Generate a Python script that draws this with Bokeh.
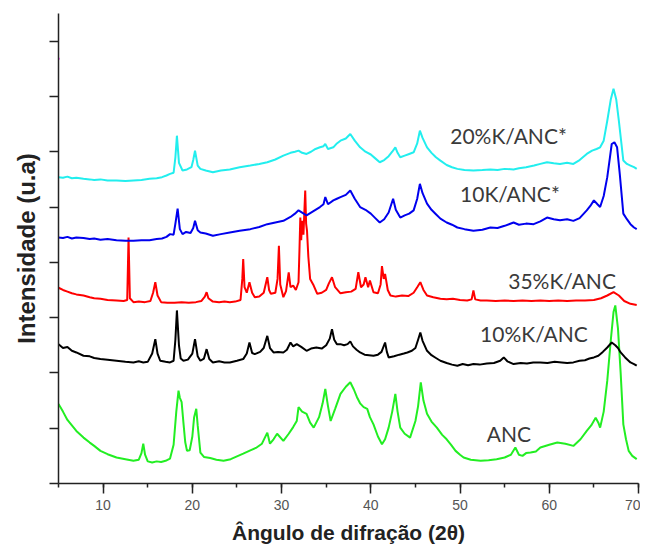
from bokeh.plotting import figure
from bokeh.models import Range1d, FixedTicker, SingleIntervalTicker, Label
from bokeh.embed import file_html
from bokeh.resources import INLINE

# ---- data (2theta, intensity a.u.) ----
anc = [(5.0,1.44),(5.5,1.30),(6.0,1.15),(6.5,1.05),(7.0,0.95),(7.8,0.83),(8.5,0.74),(9.0,0.68),(9.7,0.59),
       (10.5,0.53),(11.5,0.47),(12.5,0.44),(13.4,0.41),(14.0,0.43),(14.3,0.55),(14.5,0.72),(14.7,0.52),(15.0,0.40),
       (15.5,0.38),(16.0,0.40),(16.5,0.39),(17.0,0.41),(17.5,0.45),(17.9,0.70),(18.2,1.30),(18.45,1.68),(18.6,1.55),
       (18.8,1.47),(19.0,1.10),(19.2,0.75),(19.4,0.59),(19.7,0.60),(20.0,0.85),(20.2,1.20),(20.44,1.35),(20.6,1.05),
       (20.9,0.56),(21.3,0.48),(22.0,0.46),(22.7,0.43),(23.5,0.41),(24.3,0.44),(25.0,0.49),(25.7,0.54),(26.5,0.60),
       (27.2,0.65),(27.8,0.72),(28.4,0.92),(28.7,0.72),(29.1,0.80),(29.5,0.90),(30.2,0.77),(30.8,0.90),(31.3,1.02),
       (31.7,1.13),(31.9,1.38),(32.3,1.30),(32.8,1.26),(33.2,1.10),(33.6,1.01),(34.2,1.20),(34.6,1.45),(34.9,1.71),
       (35.2,1.40),(35.5,1.13),(36.0,1.35),(36.6,1.62),(37.2,1.75),(37.7,1.83),(38.1,1.70),(38.45,1.56),(38.8,1.45),
       (39.2,1.38),(39.6,1.35),(39.9,1.20),(40.3,1.07),(40.8,0.85),(41.25,0.71),(41.6,0.80),(42.0,1.01),(42.4,1.30),
       (42.75,1.62),(43.0,1.30),(43.3,1.01),(43.8,0.90),(44.4,0.83),(45.0,1.13),(45.3,1.40),(45.6,1.83),(45.9,1.50),
       (46.3,1.26),(46.8,1.12),(47.4,1.01),(48.0,0.88),(48.5,0.80),(49.0,0.70),(49.5,0.59),(50.0,0.52),(50.4,0.47),
       (51.2,0.43),(52.3,0.41),(53.2,0.42),(54.1,0.44),(55.0,0.47),(55.7,0.52),(56.2,0.65),(56.6,0.52),(57.0,0.50),
       (57.4,0.55),(57.9,0.56),(58.5,0.58),(59.0,0.65),(60.0,0.70),(60.9,0.74),(61.8,0.72),(62.7,0.68),(63.5,0.80),
       (64.2,0.95),(64.7,1.05),(65.2,1.19),(65.5,1.10),(65.7,1.01),(66.1,1.30),(66.5,1.86),(66.9,2.60),(67.2,3.10),
       (67.4,3.22),(67.7,2.80),(68.0,2.00),(68.3,1.07),(68.6,0.80),(68.9,0.59),(69.3,0.50),(69.8,0.44)]

k10 = [(5.0,2.52),(5.5,2.45),(6.0,2.47),(6.5,2.40),(7.0,2.37),(7.8,2.31),(8.5,2.30),(9.0,2.27),(9.7,2.25),
       (10.5,2.24),(11.5,2.22),(12.5,2.20),(13.4,2.19),(14.0,2.21),(14.5,2.19),(15.0,2.20),(15.5,2.35),(15.85,2.61),
       (16.1,2.35),(16.4,2.22),(17.0,2.20),(17.5,2.19),(17.9,2.22),(18.1,2.60),(18.27,3.13),(18.5,2.50),(18.7,2.26),
       (19.0,2.22),(19.5,2.24),(20.0,2.35),(20.3,2.61),(20.6,2.30),(20.9,2.22),(21.3,2.26),(21.6,2.43),(21.9,2.25),
       (22.3,2.19),(23.0,2.21),(23.6,2.19),(24.2,2.19),(25.0,2.22),(25.7,2.25),(26.1,2.35),(26.4,2.55),(26.7,2.36),
       (27.0,2.34),(27.6,2.38),(28.0,2.45),(28.4,2.67),(28.7,2.45),(29.1,2.37),(29.6,2.38),(30.2,2.37),(30.6,2.42),
       (31.0,2.55),(31.3,2.48),(31.7,2.52),(32.2,2.47),(32.8,2.40),(33.3,2.44),(33.9,2.46),(34.5,2.44),(35.0,2.50),
       (35.4,2.62),(35.65,2.79),(35.9,2.60),(36.2,2.52),(36.6,2.52),(37.0,2.50),(37.4,2.52),(37.7,2.57),(38.0,2.48),
       (38.4,2.42),(38.8,2.37),(39.3,2.33),(39.8,2.32),(40.3,2.31),(40.8,2.33),(41.2,2.38),(41.6,2.55),(41.8,2.38),
       (42.0,2.28),(42.6,2.30),(43.2,2.33),(43.7,2.35),(44.1,2.37),(44.6,2.40),(45.0,2.45),(45.3,2.60),(45.55,2.73),
       (45.8,2.58),(46.3,2.40),(46.8,2.32),(47.3,2.27),(47.8,2.22),(48.5,2.18),(49.1,2.15),(49.7,2.13),(50.3,2.16),
       (50.9,2.14),(51.5,2.16),(52.2,2.15),(53.0,2.17),(53.8,2.18),(54.5,2.22),(54.9,2.28),(55.3,2.21),(56.0,2.16),
       (56.8,2.18),(57.5,2.17),(58.2,2.19),(59.0,2.19),(59.8,2.18),(60.6,2.20),(61.4,2.19),(62.0,2.18),(62.7,2.19),
       (63.4,2.22),(64.0,2.23),(64.5,2.26),(65.0,2.28),(65.5,2.31),(66.0,2.38),(66.5,2.46),(67.0,2.55),(67.4,2.50),
       (67.7,2.45),(68.0,2.37),(68.5,2.28),(69.1,2.19),(69.5,2.16),(69.8,2.13)]

k35 = [(5.0,3.54),(5.5,3.50),(6.0,3.47),(6.5,3.44),(7.0,3.42),(7.8,3.40),(8.5,3.37),(9.0,3.35),(9.7,3.34),
       (10.5,3.32),(11.5,3.31),(12.3,3.30),(12.7,3.32),(12.85,4.45),(13.0,3.35),(13.4,3.28),(14.0,3.29),(14.7,3.28),
       (15.3,3.30),(15.6,3.45),(15.85,3.64),(16.1,3.40),(16.5,3.28),(17.2,3.27),(18.0,3.27),(18.8,3.28),(19.6,3.27),
       (20.4,3.28),(21.0,3.30),(21.4,3.38),(21.6,3.46),(21.8,3.35),(22.3,3.29),(23.0,3.28),(23.6,3.29),(24.2,3.28),
       (24.8,3.29),(25.4,3.32),(25.6,3.70),(25.7,4.06),(25.85,3.55),(26.1,3.45),(26.4,3.64),(26.7,3.45),(27.0,3.37),
       (27.5,3.38),(28.0,3.45),(28.4,3.73),(28.6,3.50),(28.8,3.43),(29.3,3.45),(29.55,3.70),(29.7,4.30),(29.85,3.60),
       (30.2,3.37),(30.5,3.48),(30.8,3.82),(31.0,3.55),(31.3,3.58),(31.6,3.50),(31.9,3.64),(32.0,4.20),(32.1,4.81),
       (32.2,4.40),(32.3,4.75),(32.45,4.50),(32.55,4.90),(32.65,5.30),(32.75,4.70),(32.85,4.57),(33.0,4.10),
       (33.2,3.70),(33.6,3.58),(34.0,3.43),(34.5,3.45),(35.0,3.50),(35.3,3.62),(35.65,3.73),(36.0,3.55),(36.6,3.44),
       (37.2,3.46),(37.8,3.47),(38.3,3.52),(38.6,3.82),(38.9,3.55),(39.2,3.60),(39.4,3.73),(39.7,3.55),(39.9,3.67),
       (40.3,3.46),(40.8,3.44),(41.1,3.60),(41.25,3.93),(41.45,3.70),(41.6,3.79),(41.9,3.50),(42.2,3.40),(42.8,3.38),
       (43.5,3.40),(44.2,3.39),(44.8,3.45),(45.2,3.55),(45.55,3.64),(45.9,3.50),(46.3,3.40),(47.0,3.37),(47.8,3.34),
       (48.5,3.33),(49.2,3.34),(50.0,3.32),(50.8,3.31),(51.3,3.33),(51.5,3.49),(51.7,3.33),(52.3,3.31),(53.0,3.31),
       (54.0,3.30),(55.0,3.31),(56.0,3.30),(57.0,3.31),(58.0,3.30),(59.0,3.31),(60.0,3.30),(61.0,3.31),(62.0,3.30),
       (63.0,3.31),(64.0,3.31),(65.0,3.32),(65.8,3.35),(66.5,3.40),(67.2,3.46),(67.8,3.40),(68.4,3.30),(69.1,3.25),
       (69.8,3.23)]

k10s = [(5.0,4.45),(5.5,4.44),(6.0,4.46),(6.5,4.43),(7.0,4.45),(7.8,4.44),(8.5,4.42),(9.0,4.43),(9.7,4.41),
        (10.5,4.42),(11.5,4.40),(12.5,4.39),(13.4,4.39),(14.3,4.40),(15.2,4.40),(16.0,4.42),(16.6,4.43),(17.1,4.46),
        (17.5,4.51),(17.9,4.50),(18.1,4.70),(18.35,4.97),(18.6,4.60),(18.9,4.51),(19.3,4.55),(19.8,4.53),(20.1,4.62),
        (20.3,4.75),(20.6,4.58),(20.9,4.54),(21.5,4.52),(22.3,4.48),(23.2,4.51),(24.2,4.54),(25.3,4.57),(26.5,4.60),
        (27.5,4.64),(28.4,4.69),(29.3,4.72),(30.2,4.75),(31.0,4.82),(31.5,4.88),(31.9,4.94),(32.3,4.90),(32.8,4.85),
        (33.3,4.90),(33.8,4.95),(34.3,5.00),(34.7,5.05),(34.9,5.18),(35.2,5.05),(35.8,5.12),(36.2,5.15),(36.6,5.18),
        (37.2,5.22),(37.7,5.30),(38.2,5.15),(38.8,5.00),(39.4,4.95),(40.0,4.88),(40.5,4.80),(41.0,4.72),(41.5,4.78),
        (42.0,4.90),(42.5,5.15),(42.8,4.95),(43.3,4.81),(43.8,4.85),(44.3,4.88),(44.8,4.94),(45.2,5.15),(45.5,5.42),
        (45.8,5.25),(46.3,5.06),(46.8,4.95),(47.3,4.87),(47.8,4.79),(48.5,4.72),(49.1,4.68),(49.7,4.63),(50.5,4.60),
        (51.5,4.57),(52.5,4.59),(53.4,4.63),(54.2,4.62),(55.0,4.66),(56.0,4.72),(56.6,4.68),(57.4,4.70),(58.25,4.69),
        (59.0,4.74),(59.75,4.81),(60.5,4.78),(61.2,4.76),(62.0,4.78),(62.7,4.75),(63.4,4.80),(64.2,4.94),(64.6,5.02),
        (65.0,5.12),(65.4,5.05),(65.7,5.00),(66.1,5.20),(66.5,5.54),(66.8,5.90),(67.0,6.14),(67.3,6.17),(67.6,6.08),
        (67.9,5.60),(68.3,4.88),(68.7,4.78),(69.1,4.69),(69.5,4.63),(69.8,4.60)]

k20s = [(5.0,5.54),(5.5,5.53),(6.0,5.55),(6.5,5.52),(7.0,5.53),(7.8,5.51),(8.5,5.50),(9.0,5.49),(9.7,5.50),
        (10.5,5.48),(11.5,5.48),(12.5,5.47),(13.4,5.48),(14.3,5.49),(15.2,5.51),(16.0,5.52),(16.6,5.54),(17.1,5.57),
        (17.5,5.60),(17.9,5.62),(18.1,5.90),(18.27,6.29),(18.5,5.80),(18.9,5.66),(19.4,5.68),(19.9,5.72),(20.1,5.85),
        (20.3,6.02),(20.6,5.75),(20.9,5.69),(21.5,5.66),(22.3,5.63),(23.2,5.66),(24.2,5.68),(25.3,5.72),(26.5,5.75),
        (27.5,5.78),(28.4,5.81),(29.3,5.86),(30.2,5.93),(31.0,5.98),(31.5,6.00),(31.9,6.02),(32.3,5.98),(32.8,5.96),
        (33.3,6.00),(33.8,6.05),(34.3,6.08),(34.7,6.10),(34.9,6.14),(35.2,6.05),(35.8,6.08),(36.2,6.15),(36.6,6.20),
        (37.2,6.24),(37.7,6.32),(38.2,6.20),(38.8,6.08),(39.4,6.00),(40.0,5.95),(40.5,5.88),(41.0,5.81),(41.5,5.85),
        (42.0,5.92),(42.4,6.00),(42.75,6.08),(43.0,5.98),(43.3,5.90),(43.8,5.93),(44.3,5.96),(44.8,5.99),(45.2,6.15),
        (45.5,6.38),(45.8,6.25),(46.3,6.08),(46.8,5.98),(47.3,5.90),(47.8,5.84),(48.5,5.76),(49.1,5.72),(49.7,5.69),
        (50.5,5.67),(51.5,5.66),(52.5,5.67),(53.4,5.68),(54.2,5.67),(55.0,5.69),(56.0,5.68),(56.6,5.70),(57.4,5.72),
        (58.3,5.75),(59.0,5.78),(59.75,5.81),(60.5,5.79),(61.2,5.78),(62.0,5.80),(62.7,5.78),(63.4,5.85),(64.2,5.96),
        (64.8,6.02),(65.3,6.05),(65.7,6.08),(66.1,6.20),(66.5,6.56),(66.9,6.95),(67.2,7.14),(67.5,6.95),(67.8,6.56),
        (68.3,5.84),(68.7,5.78),(69.1,5.75),(69.5,5.72),(69.8,5.69)]

series_names = ["ANC", "10%K/ANC", "35%K/ANC", "10K/ANC*", "20%K/ANC*"]
series_data = [anc, k10, k35, k10s, k20s]
series_colors = ["#22EE22", "#000000", "#FF0000", "#0000EE", "#22EEEE"]

x_ticks = [10, 20, 30, 40, 50, 60, 70]
y_ticks = [0, 1, 2, 3, 4, 5, 6, 7, 8]

# ---- figure ----
p = figure(width=640, height=548, output_backend="svg", toolbar_location=None,
           x_range=Range1d(5, 70), y_range=Range1d(0, 8.5),
           min_border_left=58, min_border_right=2, min_border_top=13, min_border_bottom=65)
p.outline_line_color = None
p.xgrid.visible = False
p.ygrid.visible = False
p.background_fill_color = "white"
p.border_fill_color = "white"

for data, col in zip(series_data, series_colors):
    xs = [d[0] for d in data]
    ys = [d[1] for d in data]
    p.line(xs, ys, line_color=col, line_width=2)

# stray magenta dot on the axis
p.scatter([5.0], [7.68], size=2.5, color="#FF33FF", line_color=None)

# x axis
p.xaxis.ticker = SingleIntervalTicker(interval=10, num_minor_ticks=2)
p.xaxis.axis_line_color = "#222222"
p.xaxis.axis_line_width = 1.5
p.xaxis.major_tick_line_color = "#222222"
p.xaxis.major_tick_line_width = 1.5
p.xaxis.minor_tick_line_color = "#222222"
p.xaxis.minor_tick_line_width = 1.5
p.xaxis.major_tick_in = 0
p.xaxis.major_tick_out = 10
p.xaxis.minor_tick_in = 0
p.xaxis.minor_tick_out = 4
p.xaxis.major_label_text_font = "Liberation Sans"
p.xaxis.major_label_text_font_size = "14px"
p.xaxis.major_label_text_color = "#555555"
p.xaxis.major_label_standoff = 6
p.xaxis.axis_label = "Ângulo de difração (2θ)"
p.xaxis.axis_label_text_font = "Liberation Sans"
p.xaxis.axis_label_text_font_style = "bold"
p.xaxis.axis_label_text_font_size = "21px"
p.xaxis.axis_label_text_color = "#222222"
p.xaxis.axis_label_standoff = 8

# y axis
p.yaxis.ticker = FixedTicker(ticks=y_ticks)
p.yaxis.major_label_overrides = {t: "" for t in y_ticks}
p.yaxis.major_label_text_font_size = "0px"
p.yaxis.axis_line_color = "#222222"
p.yaxis.axis_line_width = 1.5
p.yaxis.major_tick_line_color = "#222222"
p.yaxis.major_tick_line_width = 1.5
p.yaxis.major_tick_in = 0
p.yaxis.major_tick_out = 9
p.yaxis.minor_tick_line_color = None
p.yaxis.major_label_standoff = 0
p.yaxis.axis_label = "Intensidade (u.a)"
p.yaxis.axis_label_text_font = "Liberation Sans"
p.yaxis.axis_label_text_font_style = "bold"
p.yaxis.axis_label_text_font_size = "24px"
p.yaxis.axis_label_text_color = "#222222"
p.yaxis.axis_label_standoff = 10

# curve labels
label_pos = {"20%K/ANC*": (48.9, 6.29), "10K/ANC*": (50.0, 5.24), "35%K/ANC": (55.4, 3.67),
             "10%K/ANC": (52.25, 2.71), "ANC": (53.0, 0.90)}
for name in series_names:
    lx, ly = label_pos[name]
    p.add_layout(Label(x=lx, y=ly, text=name, text_font="Lato", text_font_size="21px",
                       text_color="#3a3a3a", text_align="left", text_baseline="middle"))

open("out.html", "w").write(file_html(p, INLINE))
